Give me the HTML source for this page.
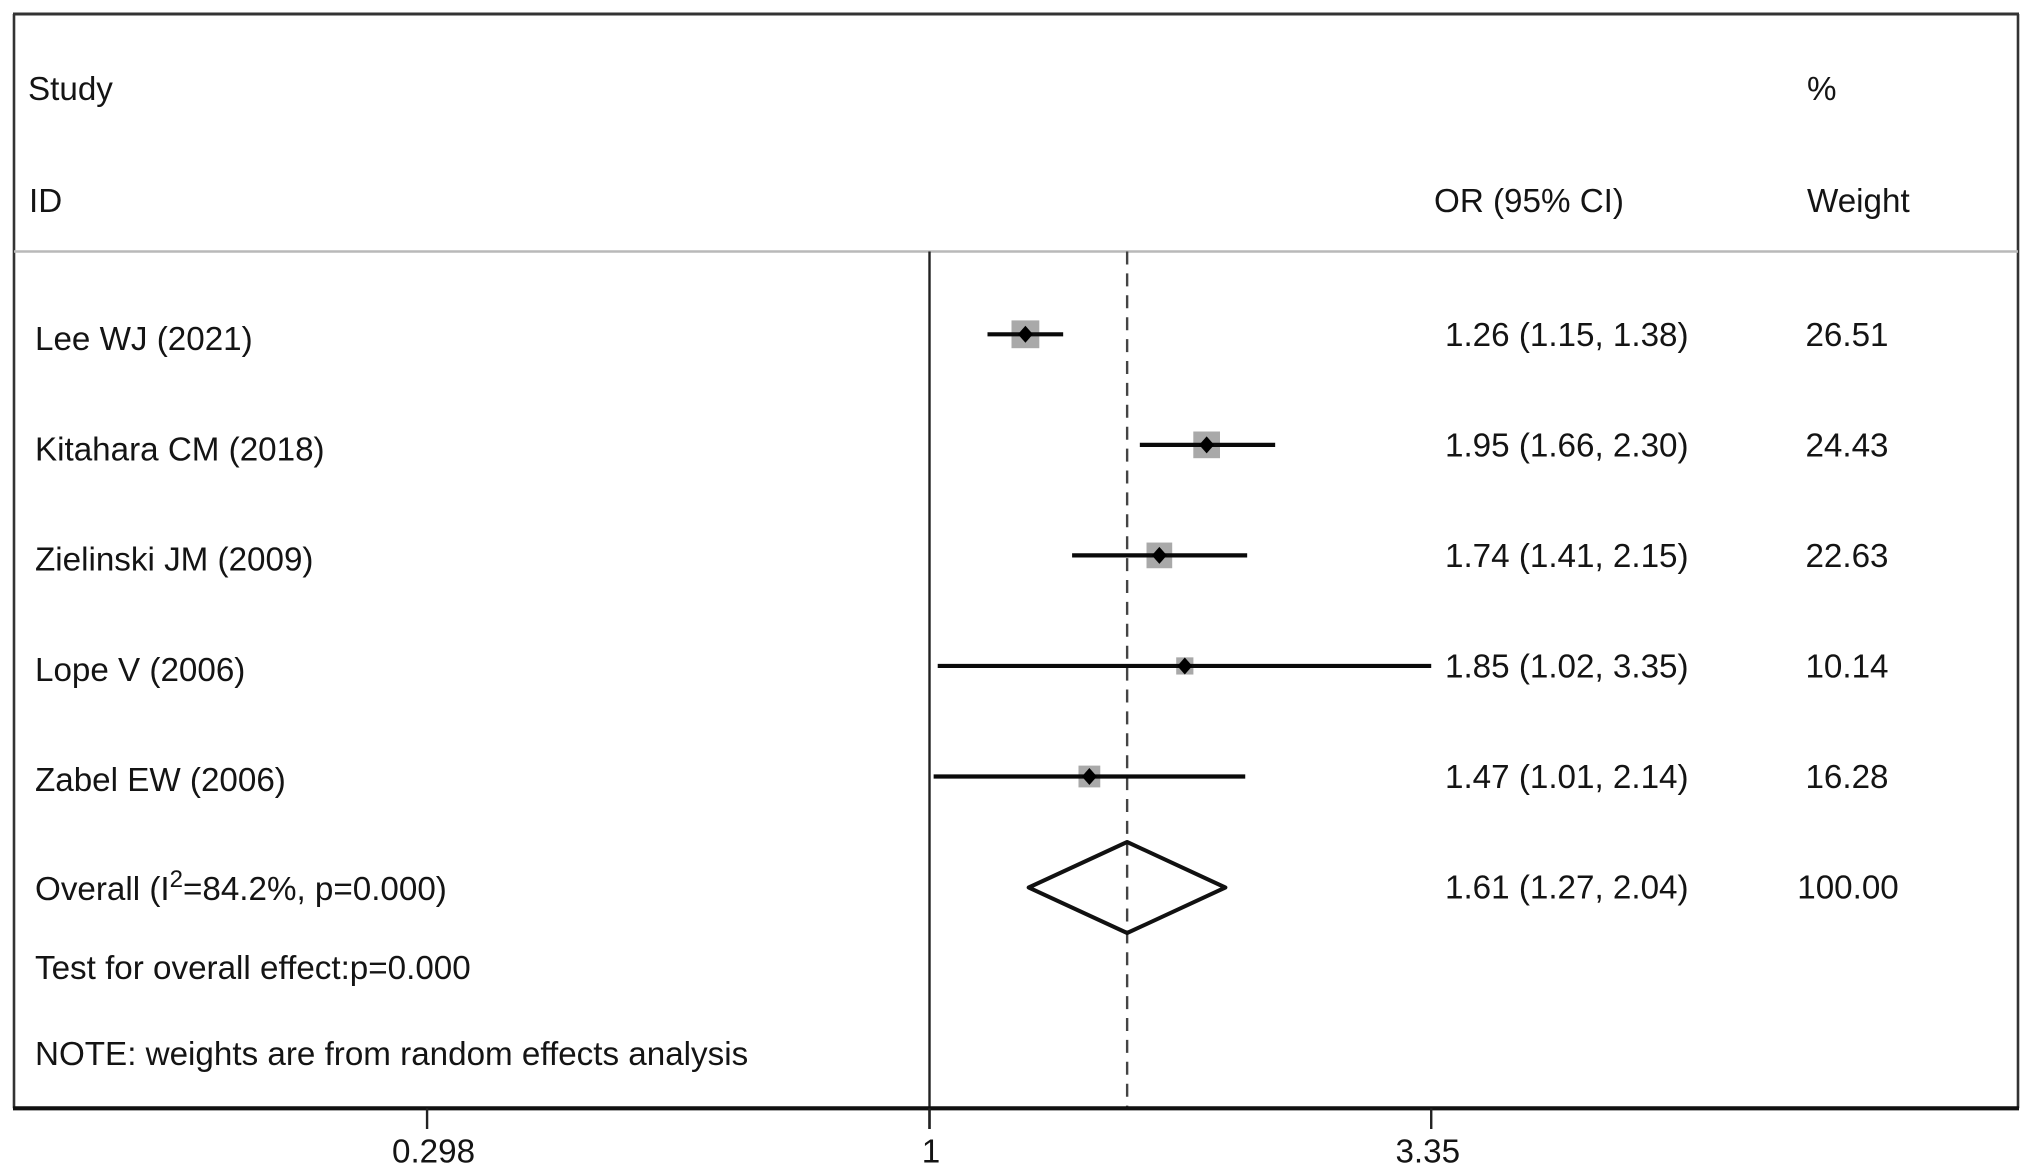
<!DOCTYPE html>
<html lang="en">
<head>
<meta charset="utf-8">
<title>Forest plot</title>
<style>
  html, body { margin: 0; padding: 0; background: #fff; }
  svg { display: block; }
  text { font-family: "Liberation Sans", Arial, sans-serif; font-size: 33.2px; fill: #141414; }
</style>
</head>
<body>
<svg id="chart" xmlns="http://www.w3.org/2000/svg" width="2032" height="1176" viewBox="0 0 2032 1176"></svg>
<script>
const studies = ['Lee WJ (2021)', 'Kitahara CM (2018)', 'Zielinski JM (2009)', 'Lope V (2006)', 'Zabel EW (2006)'];
const orValues = [1.26, 1.95, 1.74, 1.85, 1.47];
const lowerCI = [1.15, 1.66, 1.41, 1.02, 1.01];
const upperCI = [1.38, 2.30, 2.15, 3.35, 2.14];
const weights = [26.51, 24.43, 22.63, 10.14, 16.28];
const overallOR = 1.61;
const overallLower = 1.27;
const overallUpper = 2.04;
const overallWeight = 100.00;
const tickValues = [0.298, 1, 3.35];
const tickLabels = ['0.298', '1', '3.35'];

const NS = 'http://www.w3.org/2000/svg';
const svg = document.getElementById('chart');

function xScale(v) { return 929.5 + 415 * Math.log(v); }
function tickLabelX(v) { return 931 + 410.9 * Math.log(v); }
function rowY(i) { return 334.3 + 110.55 * i; }
function studyLabelY(i) { return 350 + 110.25 * i; }
function squareSide(w) { return 5.4 * Math.sqrt(w); }

function make(tag, attrs, content) {
  const el = document.createElementNS(NS, tag);
  for (const k in attrs) el.setAttribute(k, attrs[k]);
  if (content !== undefined) el.textContent = content;
  svg.appendChild(el);
  return el;
}
function label(x, y, str, anchor) {
  return make('text', { x: x, y: y, 'text-anchor': anchor || 'start' }, str);
}
function ciText(o, l, u) {
  return o.toFixed(2) + ' (' + l.toFixed(2) + ', ' + u.toFixed(2) + ')';
}

const TOP = 14, LEFT = 14, RIGHT = 2018, HEAD = 251.5, AXIS = 1108.3, TICK_END = 1129;

let el;

el = make('line', { x1: LEFT, y1: TOP, x2: LEFT, y2: AXIS, stroke: '#333', 'stroke-width': 2.6 });



el = make('line', { x1: RIGHT, y1: TOP, x2: RIGHT, y2: AXIS, stroke: '#333', 'stroke-width': 2.6 });



el = make('line', { x1: LEFT - 1, y1: TOP, x2: RIGHT + 1, y2: TOP, stroke: '#333', 'stroke-width': 3 });



el = make('line', { x1: LEFT, y1: HEAD, x2: RIGHT, y2: HEAD, stroke: '#b9b9b9', 'stroke-width': 2.5 });



el = label(28, 100, 'Study');



el = label(29, 212, 'ID');



el = label(1434, 212, 'OR (95% CI)');



el = label(1807, 100, '%');



el = label(1807, 212, 'Weight');



el = make('line', { x1: xScale(1), y1: HEAD, x2: xScale(1), y2: TICK_END, stroke: '#222', 'stroke-width': 2.4 });



el = make('line', { x1: xScale(overallOR), y1: HEAD, x2: xScale(overallOR), y2: AXIS, stroke: '#444', 'stroke-width': 2.4, 'stroke-dasharray': '13 8.9' });



studies.forEach(function (name, i) {
  const y = rowY(i), cx = xScale(orValues[i]), s = squareSide(weights[i]);
  let m;

  m = make('rect', { x: cx - s / 2, y: y - s / 2, width: s, height: s, fill: '#a9a9a9' });
  
  

  m = make('line', { x1: xScale(lowerCI[i]), y1: y, x2: xScale(upperCI[i]), y2: y, stroke: '#0a0a0a', 'stroke-width': 4.2 });
  
  

  m = make('polygon', { points: [cx - 7.5, y, cx, y - 8.5, cx + 7.5, y, cx, y + 8.5].join(' '), fill: '#000' });
  
  

  m = label(35, studyLabelY(i), name);
  
  

  m = label(1445, y + 11.7, ciText(orValues[i], lowerCI[i], upperCI[i]));
  
  

  m = label(1847, y + 11.7, weights[i].toFixed(2), 'middle');
  
  
});

const oy = 887.5;
el = make('polygon', {
  points: [xScale(overallLower), oy, xScale(overallOR), oy - 45.5, xScale(overallUpper), oy, xScale(overallOR), oy + 45.5].join(' '),
  fill: 'none', stroke: '#111', 'stroke-width': 4, 'stroke-linejoin': 'round'
});



el = make('text', { x: 35, y: 900 });


el.appendChild(document.createTextNode('Overall (I'));
const sup = document.createElementNS(NS, 'tspan');
sup.setAttribute('dy', '-13');
sup.setAttribute('style', 'font-size:24px');
sup.textContent = '2';
el.appendChild(sup);
const rest = document.createElementNS(NS, 'tspan');
rest.setAttribute('dy', '13');
rest.textContent = '=84.2%, p=0.000)';
el.appendChild(rest);

el = label(1445, oy + 11, ciText(overallOR, overallLower, overallUpper));



el = label(1848, oy + 11, overallWeight.toFixed(2), 'middle');



el = label(35, 979, 'Test for overall effect:p=0.000');



el = label(35, 1065, 'NOTE: weights are from random effects analysis');



el = make('line', { x1: LEFT - 1, y1: AXIS, x2: RIGHT + 1, y2: AXIS, stroke: '#111', 'stroke-width': 4.2 });



tickValues.forEach(function (v, i) {
  const x = xScale(v);
  let t;
  t = make('line', { x1: x, y1: AXIS, x2: x, y2: TICK_END, stroke: '#222', 'stroke-width': 2.4 });
  
  
  t = label(tickLabelX(v), 1162.5, tickLabels[i], 'middle');
  
  
});
</script>
</body>
</html>
